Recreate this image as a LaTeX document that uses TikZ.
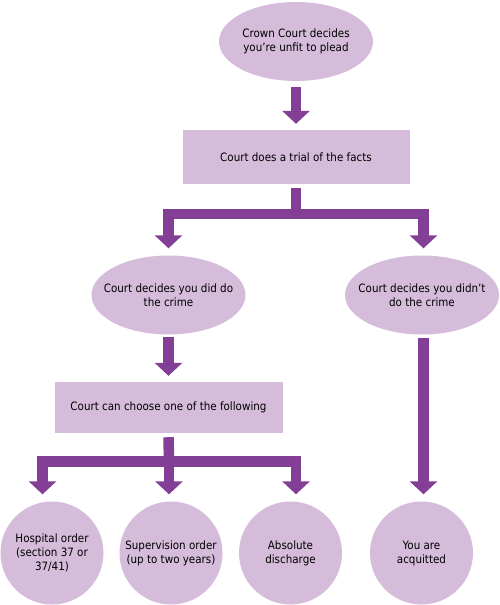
\documentclass[tikz,border=0pt]{standalone}
\usepackage{fontspec}
\setmainfont{DejaVu Sans Condensed}
\usepackage{tikz}
\usetikzlibrary{arrows.meta,positioning,shapes.geometric}
\definecolor{boxfill}{RGB}{213,188,219}
\definecolor{arrowpurple}{RGB}{131,62,150}

\begin{document}
\begin{tikzpicture}[x=1pt, y=-1pt,
  every node/.style={fill=boxfill, align=center,
    font=\fontsize{11.5}{14}\selectfont},
  oval/.style={ellipse, minimum width=154pt, minimum height=79pt,
    inner xsep=-14pt, inner ysep=0pt},
  panel/.style={rectangle, inner sep=0pt},
  disc/.style={circle, minimum size=103pt, inner sep=0pt},
  flow/.style={draw=arrowpurple, line width=10.5pt,
    -{Triangle[width=27pt, length=13pt]}},
  flowbar/.style={draw=arrowpurple, line width=10.5pt}]
  \useasboundingbox (0,0) rectangle (499,605);

  \node[oval] (unfit) at (296,41.5) {Crown Court decides\\you’re unfit to plead};
  \node[panel, minimum width=227pt, minimum height=54pt] (trial) at (296,157)
    {Court does a trial of the facts};
  \node[oval] (guilty) at (168.5,295) {Court decides you did do\\the crime};
  \node[oval] (notguilty) at (422,295) {Court decides you didn’t\\do the crime};
  \node[panel, minimum width=228pt, minimum height=51pt] (choose) at (168.5,407.5)
    {Court can choose one of the following};
  \node[disc] (hospital) at (52,553) {Hospital order\\(section 37 or\\37/41)};
  \node[disc] (supervision) at (171,553) {Supervision order\\(up to two years)};
  \node[disc] (discharge) at (290.5,553) {Absolute\\discharge};
  \node[disc] (acquitted) at (421.5,553) {You are\\acquitted};

  \coordinate (fork1) at (296,214);
  \coordinate (fork2) at (169,461.5);

  \draw[flow] ([yshift=-6pt]unfit.south) -- ([yshift=6pt]trial.north);
  \draw[flowbar] ([yshift=-4pt]trial.south) -- (fork1);
  \draw[flow] (fork1) -| ([yshift=7pt]guilty.north);
  \draw[flow] (fork1) -| ([xshift=1.5pt, yshift=7pt]notguilty.north);
  \draw[flow] ([yshift=-2pt]guilty.south) -- ([yshift=6pt]choose.north);
  \draw[flow] ([xshift=1.5pt, yshift=-3pt]notguilty.south)
    -- ([xshift=2pt, yshift=7pt]acquitted.north);
  \draw[flowbar] ([yshift=-4pt]choose.south) -- (fork2);
  \draw[flow] (fork2) -| ([xshift=-9.5pt, yshift=7pt]hospital.north);
  \draw[flow] (fork2) -- ([xshift=-2pt, yshift=7pt]supervision.north);
  \draw[flow] (fork2) -| ([xshift=5.5pt, yshift=7pt]discharge.north);
\end{tikzpicture}
\end{document}
